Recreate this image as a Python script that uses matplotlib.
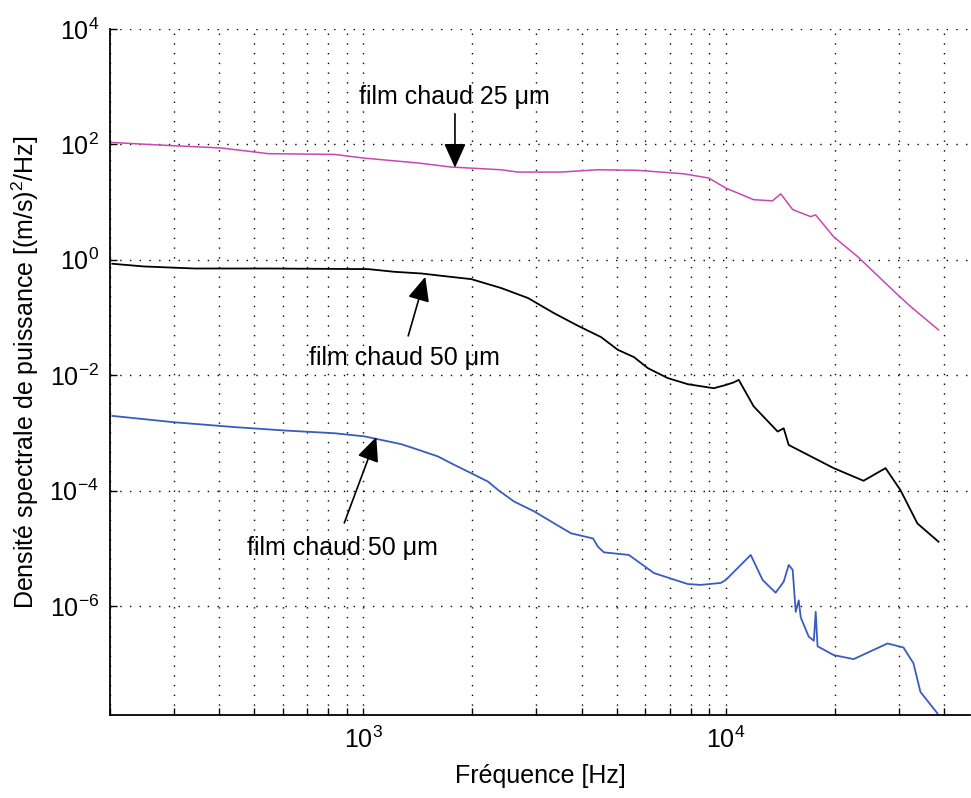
import numpy as np
import matplotlib
matplotlib.use('Agg')
import matplotlib.pyplot as plt

plt.rcParams['font.family'] = ['Liberation Sans', 'DejaVu Sans']
plt.rcParams['mathtext.fontset'] = 'custom'
plt.rcParams['mathtext.rm'] = 'Liberation Sans'
plt.rcParams['mathtext.default'] = 'regular'
plt.rcParams['axes.unicode_minus'] = False

# film chaud 25 um (magenta)
f_25 = [202, 269, 406, 547, 832, 1000, 1419, 1746, 2399, 2673, 3510, 4436,
        5724, 7657, 8975, 10000, 11940, 13460, 14180, 15300, 17150, 17700,
        19850, 23100, 29770, 32350, 38640]
p_25 = [108, 98, 86.5, 69, 67, 58, 47.5, 40.5, 36.3, 33.1, 33.1, 36.3,
        35.5, 30.9, 26.1, 17.5, 11.0, 10.5, 13.9, 7.4, 5.6, 6.0,
        2.5, 1.14, 0.25, 0.155, 0.061]

# film chaud 50 um (noir)
f_50a = [203, 248, 342, 547, 1032, 1217, 1445, 1640, 1985, 2400, 2848, 3357,
         3910, 4529, 5038, 5580, 6097, 6918, 7857, 9265, 10000, 10520, 10860,
         11940, 13910, 14450, 14920, 19850, 24000, 27600, 30340, 33800, 38640]
p_50a = [0.853, 0.766, 0.706, 0.706, 0.689, 0.619, 0.579, 0.528, 0.462, 0.324,
         0.217, 0.119, 0.0718, 0.0457, 0.0275, 0.0206, 0.01324, 0.00891,
         0.00698, 0.00594, 0.00676, 0.0075, 0.0083, 0.00288, 0.001054, 0.0012,
         0.000617, 0.000245, 0.000148, 0.000245, 0.000102, 2.69e-5, 1.30e-5]

# film chaud 50 um (bleu)
f_50b = [203, 300, 441, 606, 832, 1006, 1273, 1445, 1609, 1782, 1985, 2208,
         2356, 2606, 2958, 3357, 3740, 4170, 4303, 4436, 4612, 5404, 6336, 7857,
         8531, 9688, 10000, 11720, 12640, 13730, 14450, 14920, 15300, 15600,
         15900, 16110, 16940, 17500, 17710, 17920, 19850, 22540, 27940, 30920,
         32950, 34450, 38370]
p_50b = [1.97e-3, 1.53e-3, 1.26e-3, 1.10e-3, 9.86e-4, 8.71e-4, 6.37e-4,
         4.9e-4, 3.89e-4, 2.79e-4, 2.0e-4, 1.43e-4, 1.02e-4, 6.46e-5, 4.37e-5,
         2.72e-5, 1.82e-5, 1.55e-5, 1.48e-5, 1.07e-5, 8.5e-6, 7.67e-6, 3.72e-6,
         2.40e-6, 2.32e-6, 2.51e-6, 2.82e-6, 7.67e-6, 2.82e-6, 1.70e-6, 2.63e-6,
         5.13e-6, 4.22e-6, 7.9e-7, 1.25e-6, 6.3e-7, 2.95e-7, 2.5e-7, 7.9e-7,
         2.0e-7, 1.41e-7, 1.20e-7, 2.24e-7, 1.91e-7, 1.02e-7, 3.24e-8, 1.38e-8]

fig = plt.figure(figsize=(9.71, 7.98), dpi=100)
ax = fig.add_axes([0.1133, 0.104, 0.886, 0.8597])

ax.loglog(f_25, p_25, color='#C848B0', linewidth=1.1)
ax.loglog(f_50a, p_50a, color='black', linewidth=1.3)
ax.loglog(f_50b, p_50b, color='#3A5CC0', linewidth=1.3)

ax.set_xlim(200, 4.73e4)
ax.set_ylim(1.29e-8, 1e4)
ax.set_yticks([1e-6, 1e-4, 1e-2, 1e0, 1e2, 1e4])
ax.yaxis.set_minor_locator(matplotlib.ticker.NullLocator())

dots = (0, (1, 6))
ax.grid(True, which='major', axis='both', color='black', linestyle=dots, linewidth=1.0)
ax.grid(True, which='minor', axis='x', color='black', linestyle=dots, linewidth=1.0)

ax.spines['top'].set_visible(False)
ax.spines['right'].set_visible(False)
ax.spines['left'].set_linewidth(1.3)
ax.spines['bottom'].set_linewidth(1.3)
ax.tick_params(which='both', direction='in', length=5, width=1.0,
               labelsize=18, pad=8)

ax.set_xlabel('Fréquence [Hz]', fontsize=18, labelpad=8)
ax.set_ylabel('Densité spectrale de puissance [(m/s)$^2$/Hz]', fontsize=18, labelpad=6)

arrow = dict(arrowstyle='-|>,head_length=1.0,head_width=0.45', color='black',
             lw=1.2, mutation_scale=15, shrinkA=0, shrinkB=0)

ax.text(1781, 670, 'film chaud 25 μm', fontsize=18, ha='center', va='center')
ax.annotate('', xy=(1790, 39.4), xytext=(1790, 339), arrowprops=arrow)

ax.text(1297, 0.02, 'film chaud 50 μm', fontsize=18, ha='center', va='center')
ax.annotate('', xy=(1482, 0.507), xytext=(1330, 0.048), arrowprops=arrow)

ax.text(875, 1.01e-5, 'film chaud 50 μm', fontsize=18, ha='center', va='center')
ax.annotate('', xy=(1086, 8.5e-4), xytext=(886, 2.75e-5), arrowprops=arrow)

plt.savefig('out.png', dpi=100)
